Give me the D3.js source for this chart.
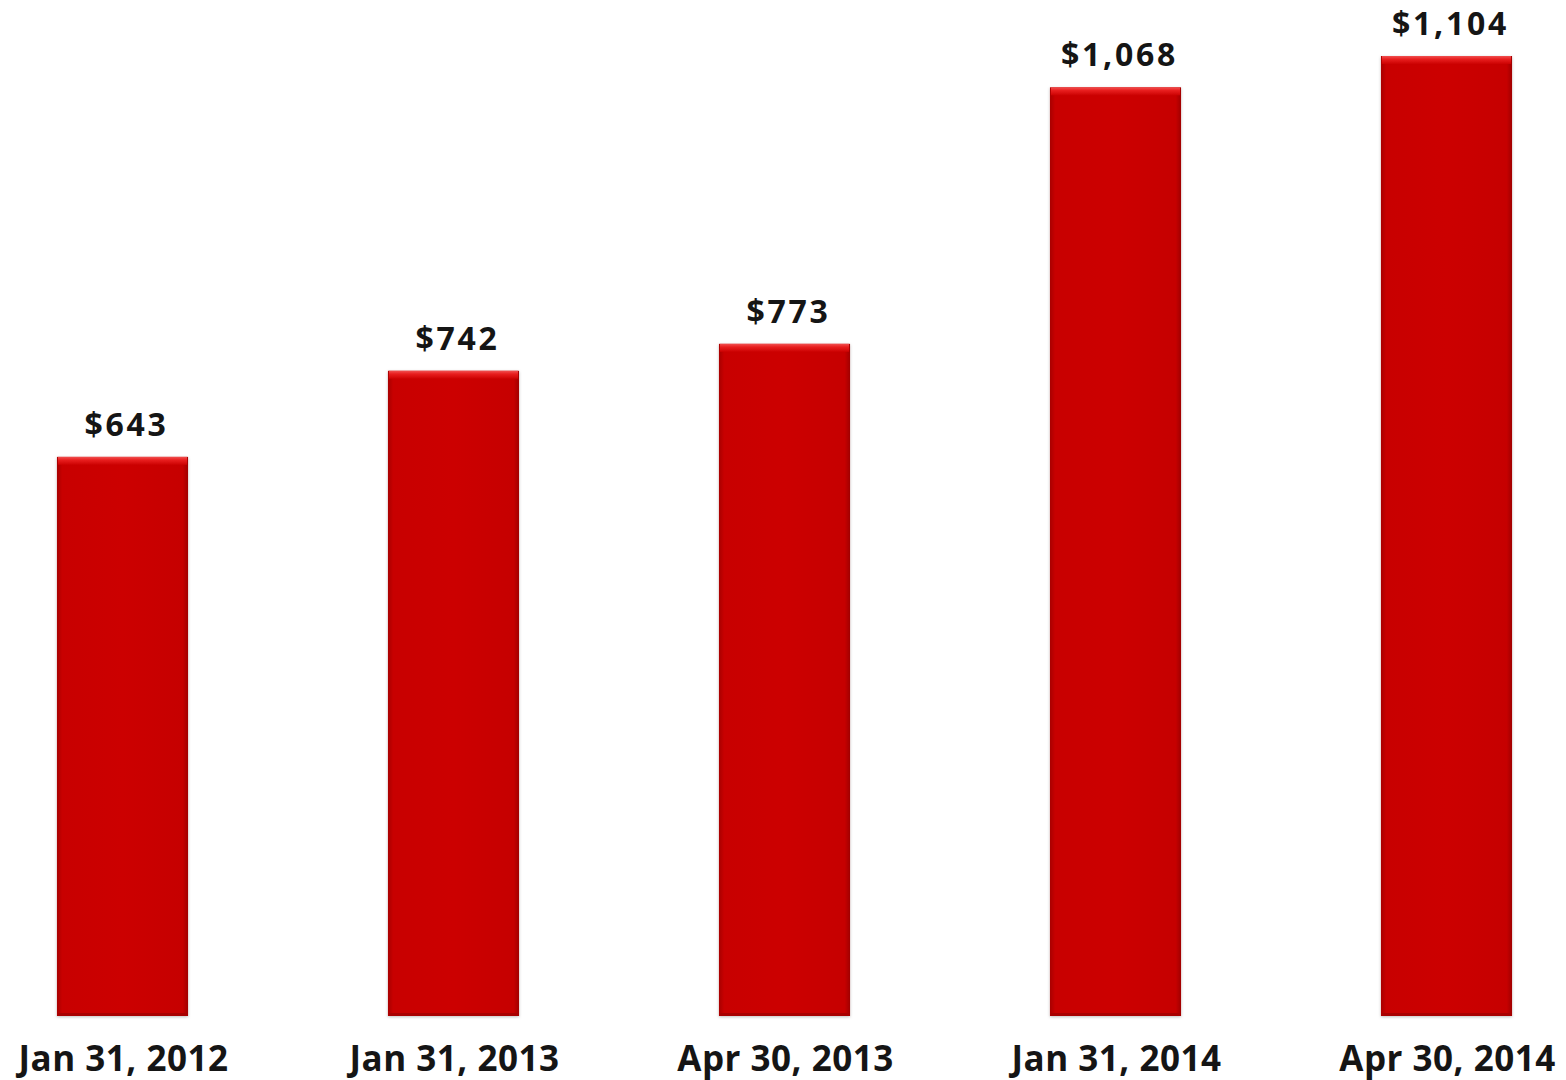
<!DOCTYPE html>
<html>
<head>
<meta charset="utf-8">
<script src="https://cdn.jsdelivr.net/npm/d3@7/dist/d3.min.js"></script>
<style>
  html, body { margin: 0; padding: 0; background: #ffffff; }
  svg { display: block; }
</style>
</head>
<body>
<svg id="chart" width="1566" height="1080"></svg>
<script>
// Balance at each reporting date (USD)
const categories = ["Jan 31, 2012", "Jan 31, 2013", "Apr 30, 2013", "Jan 31, 2014", "Apr 30, 2014"];
const values = [643, 742, 773, 1068, 1104];

const svg = d3.select("#chart");
const baseline = 1016;

const x = d3.scaleBand()
  .domain(categories)
  .range([-43, 1612])
  .paddingInner(0.604)
  .paddingOuter(0.302);

const y = d3.scaleLinear()
  .domain([0, 1104])
  .range([baseline, 56]);

const defs = svg.append("defs");

// Side shading for a beveled bar look
const sideGrad = defs.append("linearGradient").attr("id", "barSide")
  .attr("x1", "0%").attr("x2", "100%").attr("y1", "0%").attr("y2", "0%");
sideGrad.append("stop").attr("offset", "0%").attr("stop-color", "#a80000");
sideGrad.append("stop").attr("offset", "4%").attr("stop-color", "#c80000");
sideGrad.append("stop").attr("offset", "50%").attr("stop-color", "#cc0202");
sideGrad.append("stop").attr("offset", "96%").attr("stop-color", "#c60000");
sideGrad.append("stop").attr("offset", "100%").attr("stop-color", "#a00000");

// Lighter top edge
const topGrad = defs.append("linearGradient").attr("id", "barTop")
  .attr("x1", "0%").attr("x2", "0%").attr("y1", "0%").attr("y2", "100%");
topGrad.append("stop").attr("offset", "0%").attr("stop-color", "#f05050");
topGrad.append("stop").attr("offset", "40%").attr("stop-color", "#e81e1e");
topGrad.append("stop").attr("offset", "100%").attr("stop-color", "#cc0202");

const shadow = defs.append("filter").attr("id", "soft")
  .attr("x", "-5%").attr("y", "-5%").attr("width", "110%").attr("height", "110%");
shadow.append("feDropShadow").attr("dx", 0).attr("dy", 1).attr("stdDeviation", 1.5)
  .attr("flood-color", "#000").attr("flood-opacity", 0.25);

const bars = svg.append("g").selectAll("g.bar")
  .data(categories.map((c, i) => ({ c, v: values[i] })))
  .join("g").attr("class", "bar");

bars.append("rect")
  .attr("x", d => x(d.c))
  .attr("y", d => y(d.v))
  .attr("width", x.bandwidth())
  .attr("height", d => baseline - y(d.v))
  .attr("fill", "url(#barSide)")
  .attr("filter", "url(#soft)");

bars.append("rect")
  .attr("x", d => x(d.c) + 1)
  .attr("y", d => y(d.v))
  .attr("width", x.bandwidth() - 2)
  .attr("height", 8)
  .attr("fill", "url(#barTop)");

bars.append("rect")
  .attr("x", d => x(d.c) + 1)
  .attr("y", baseline - 3)
  .attr("width", x.bandwidth() - 2)
  .attr("height", 3)
  .attr("fill", "#a80000");

// Value labels above the bars
bars.append("text")
  .attr("x", d => x(d.c) + x.bandwidth() / 2 + 4)
  .attr("y", d => y(d.v) - 21)
  .attr("text-anchor", "middle")
  .attr("font-family", "'Open Sans', sans-serif")
  .attr("font-weight", 700)
  .attr("font-size", 32)
  .attr("letter-spacing", 2.7)
  .attr("fill", "#151515")
  .text(d => "$" + d3.format(",")(d.v));

// Category labels
svg.append("g").selectAll("text")
  .data(categories)
  .join("text")
  .attr("x", d => x(d) + x.bandwidth() / 2 + 1)
  .attr("y", 1071)
  .attr("text-anchor", "middle")
  .attr("font-family", "'Open Sans', sans-serif")
  .attr("font-weight", 700)
  .attr("font-size", 35)
  .attr("letter-spacing", 0.5)
  .attr("fill", "#151515")
  .text(d => d);
</script>
</body>
</html>
